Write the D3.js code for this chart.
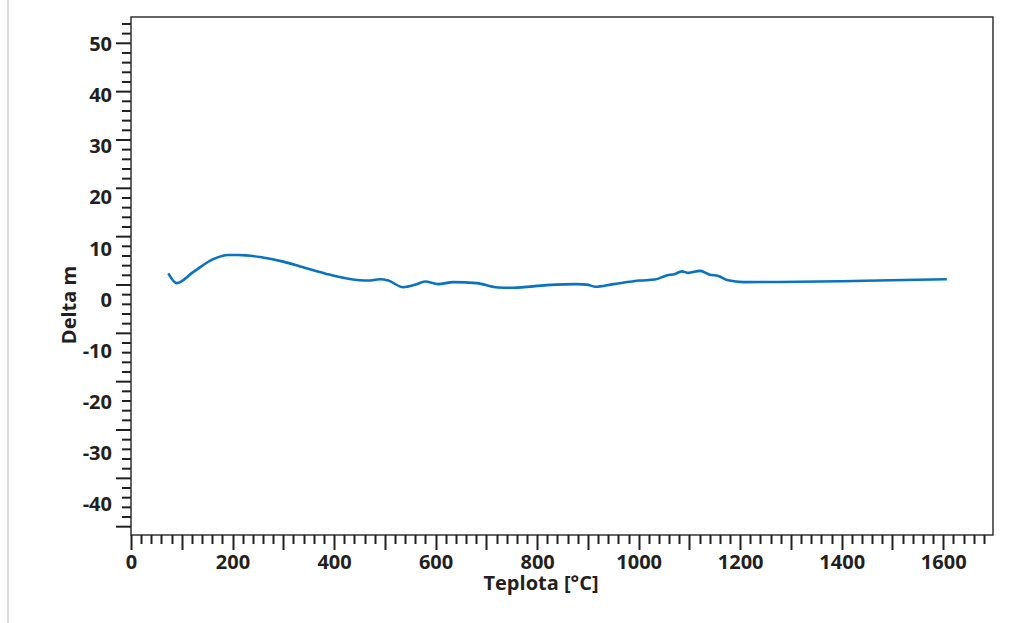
<!DOCTYPE html>
<html>
<head>
<meta charset="utf-8">
<script src="https://cdn.jsdelivr.net/npm/d3@7/dist/d3.min.js"></script>
<style>
  html, body { margin: 0; padding: 0; background: #fff; }
  svg { display: block; }
  text { font-family: "Open Sans", "Segoe UI", sans-serif; font-weight: 700; fill: #231f20; }
</style>
</head>
<body>
<svg id="chart" width="1031" height="623"></svg>
<script>
// Data: temperature [°C] vs. Delta m
const temperature = [73.5, 90, 123, 162, 192, 211, 254, 300, 339, 385, 431, 467, 490, 507, 536, 563, 579, 605, 635, 681, 723, 753, 819, 878, 898, 914, 950, 1003, 1032, 1055, 1072, 1085, 1098, 1121, 1140, 1157, 1176, 1206, 1607];
const deltaM      = [5.0, 3.1, 5.3, 7.8, 8.6, 8.6, 8.2, 7.3, 6.2, 4.9, 3.9, 3.6, 3.85, 3.6, 2.3, 2.9, 3.4, 2.9, 3.3, 3.1, 2.25, 2.2, 2.7, 2.9, 2.8, 2.4, 2.9, 3.6, 3.8, 4.6, 4.9, 5.4, 5.1, 5.5, 4.75, 4.5, 3.65, 3.3, 3.85];
const xTickLabels = [0, 200, 400, 600, 800, 1000, 1200, 1400, 1600];
const yTickLabels = [50, 40, 30, 20, 10, 0, -10, -20, -30, -40];

const svg = d3.select("#chart");
const pL = 131, pR = 993, pT = 17, pB = 535;
const FS = "20px";

// page side rule
svg.append("line").attr("x1", 8).attr("x2", 8).attr("y1", 0).attr("y2", 623)
  .attr("stroke", "#dcdcdc").attr("stroke-width", 2);

const x = d3.scaleLinear().domain([0, 1698]).range([pL, pR]);
// value scale (labels and data)
const y = d3.scaleLinear().domain([-46.16, 55.14]).range([pB, pT]);
// tick-mark scale of the original y axis (marks spaced slightly tighter than labels)
const yMarks = d3.scaleLinear().domain([-51.72, 55.44]).range([pB, pT]);

// plot frame
svg.append("rect").attr("x", pL).attr("y", pT)
  .attr("width", pR - pL).attr("height", pB - pT)
  .attr("fill", "none").attr("stroke", "#333").attr("stroke-width", 1.5);

// X axis tick marks
const xMinor = d3.range(0, 1698, 20);
const xg = svg.append("g");
xg.selectAll("line").data(xMinor).join("line")
  .attr("x1", d => Math.round(x(d)) + 0.5).attr("x2", d => Math.round(x(d)) + 0.5)
  .attr("y1", pB).attr("y2", d => pB + (d % 100 === 0 ? 15 : 9))
  .attr("stroke", "#231f20").attr("stroke-width", 2);
xg.append("g").attr("transform", `translate(0,${pB})`)
  .call(d3.axisBottom(x).tickValues(xTickLabels).tickFormat(d => String(d)).tickSize(0).tickPadding(0))
  .call(g => g.select(".domain").remove())
  .selectAll("text").attr("dy", null).attr("y", 34)
  .style("font-size", FS).attr("fill", "#231f20");

// Y axis tick marks
const yMinor = d3.range(-50, 55.44, 2);
const yg = svg.append("g");
yg.selectAll("line").data(yMinor).join("line")
  .attr("y1", d => yMarks(d)).attr("y2", d => yMarks(d))
  .attr("x1", pL).attr("x2", d => pL - (d % 10 === 0 ? 15 : 9))
  .attr("stroke", "#231f20").attr("stroke-width", 2);
yg.append("g").attr("transform", `translate(112,0)`)
  .call(d3.axisLeft(y).tickValues(yTickLabels).tickFormat(d => String(d)).tickSize(0).tickPadding(0))
  .call(g => g.select(".domain").remove())
  .selectAll("text").attr("dy", "0.36em")
  .style("font-size", FS).attr("fill", "#231f20");

// Axis titles
svg.append("text").attr("x", 541).attr("y", 590).attr("text-anchor", "middle")
  .style("font-size", FS).text("Teplota [°C]");
svg.append("text").attr("transform", "translate(76,305) rotate(-90)")
  .attr("text-anchor", "middle").style("font-size", FS).text("Delta m");

// Data line
const pts = temperature.map((t, i) => [t, deltaM[i]]);
svg.append("path").datum(pts)
  .attr("fill", "none").attr("stroke", "#0a72c2").attr("stroke-width", 2.6)
  .attr("stroke-linejoin", "round").attr("stroke-linecap", "butt")
  .attr("d", d3.line().x(d => x(d[0])).y(d => y(d[1])).curve(d3.curveMonotoneX));
</script>
</body>
</html>
